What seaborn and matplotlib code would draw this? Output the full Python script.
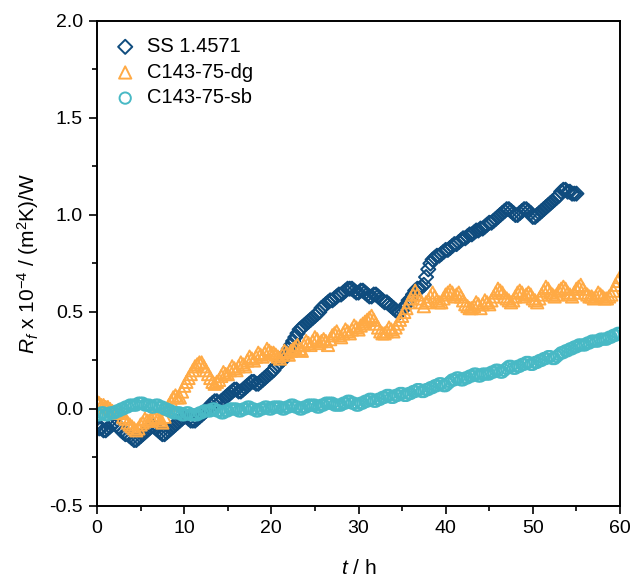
import numpy as np
import matplotlib
matplotlib.use("Agg")
import matplotlib.pyplot as plt
import pandas as pd
import seaborn as sns

# time axis (h), one reading every 15 min
t_ss = np.arange(0, 55.01, 0.25)
t_full = np.arange(0, 60.01, 0.25)

# fouling resistance, x 10^-4 (m2K)/W  (one row = one hour)
ss_1_4571 = [
    -0.09, -0.10, -0.10, -0.11,
    -0.11, -0.10, -0.09, -0.08,
    -0.07, -0.08, -0.09, -0.11,
    -0.12, -0.13, -0.13, -0.14,
    -0.15, -0.16, -0.16, -0.15,
    -0.14, -0.13, -0.12, -0.11,
    -0.10, -0.09, -0.09, -0.10,
    -0.11, -0.12, -0.13, -0.13,
    -0.12, -0.11, -0.10, -0.09,
    -0.08, -0.07, -0.06, -0.05,
    -0.04, -0.04, -0.05, -0.06,
    -0.06, -0.06, -0.05, -0.04,
    -0.03, -0.02, -0.01, 0.00,
    0.02, 0.03, 0.04, 0.04,
    0.03, 0.04, 0.05, 0.06,
    0.07, 0.08, 0.09, 0.10,
    0.10, 0.09, 0.09, 0.10,
    0.11, 0.12, 0.13, 0.14,
    0.14, 0.13, 0.13, 0.14,
    0.15, 0.16, 0.17, 0.18,
    0.19, 0.20, 0.22, 0.23,
    0.24, 0.25, 0.27, 0.29,
    0.31, 0.33, 0.35, 0.37,
    0.39, 0.41, 0.42, 0.43,
    0.44, 0.45, 0.46, 0.47,
    0.48, 0.49, 0.50, 0.52,
    0.53, 0.54, 0.55, 0.56,
    0.56, 0.57, 0.58, 0.59,
    0.59, 0.60, 0.61, 0.62,
    0.62, 0.62, 0.61, 0.60,
    0.60, 0.61, 0.61, 0.60,
    0.59, 0.58, 0.58, 0.59,
    0.59, 0.58, 0.57, 0.56,
    0.55, 0.55, 0.54, 0.53,
    0.52, 0.51, 0.50, 0.50,
    0.51, 0.52, 0.54, 0.56,
    0.57, 0.59, 0.61, 0.62,
    0.62, 0.63, 0.64, 0.68,
    0.72, 0.75, 0.77, 0.78,
    0.79, 0.79, 0.80, 0.81,
    0.82, 0.82, 0.83, 0.84,
    0.85, 0.85, 0.86, 0.87,
    0.88, 0.88, 0.89, 0.90,
    0.90, 0.91, 0.92, 0.92,
    0.93, 0.93, 0.94, 0.95,
    0.96, 0.96, 0.97, 0.98,
    0.99, 1.00, 1.01, 1.02,
    1.03, 1.03, 1.02, 1.01,
    1.00, 1.00, 1.01, 1.02,
    1.03, 1.03, 1.02, 1.01,
    0.99, 0.99, 1.00, 1.01,
    1.02, 1.03, 1.04, 1.05,
    1.06, 1.07, 1.08, 1.09,
    1.10, 1.12, 1.13, 1.13,
    1.12, 1.12, 1.11, 1.11,
    1.11]

c143_dg = [
    0.04, 0.03, 0.02, 0.02,
    0.01, 0.01, 0.00, -0.01,
    -0.02, -0.02, -0.01, -0.02,
    -0.04, -0.05, -0.07, -0.08,
    -0.09, -0.10, -0.11, -0.10,
    -0.08, -0.07, -0.05, -0.06,
    -0.06, -0.05, -0.04, -0.04,
    -0.05, -0.06, -0.07, -0.04,
    0.00, 0.02, 0.04, 0.06,
    0.07, 0.06, 0.06, 0.09,
    0.12, 0.14, 0.16, 0.18,
    0.20, 0.22, 0.23, 0.24,
    0.24, 0.22, 0.20, 0.18,
    0.16, 0.14, 0.13, 0.14,
    0.15, 0.17, 0.19, 0.18,
    0.18, 0.20, 0.22, 0.21,
    0.20, 0.22, 0.24, 0.23,
    0.22, 0.25, 0.27, 0.26,
    0.25, 0.27, 0.29, 0.28,
    0.27, 0.29, 0.31, 0.30,
    0.29, 0.29, 0.28, 0.27,
    0.26, 0.28, 0.30, 0.29,
    0.28, 0.30, 0.31, 0.32,
    0.33, 0.31, 0.30, 0.33,
    0.35, 0.34, 0.33, 0.35,
    0.37, 0.36, 0.34, 0.35,
    0.36, 0.35, 0.33, 0.36,
    0.38, 0.39, 0.40, 0.38,
    0.37, 0.39, 0.41, 0.40,
    0.39, 0.41, 0.43, 0.42,
    0.41, 0.43, 0.44, 0.45,
    0.46, 0.47, 0.48, 0.46,
    0.44, 0.42, 0.40, 0.39,
    0.39, 0.40, 0.42, 0.41,
    0.40, 0.42, 0.44, 0.46,
    0.48, 0.50, 0.52, 0.55,
    0.57, 0.59, 0.61, 0.59,
    0.57, 0.55, 0.53, 0.55,
    0.56, 0.58, 0.60, 0.58,
    0.56, 0.55, 0.55, 0.57,
    0.59, 0.60, 0.61, 0.60,
    0.58, 0.59, 0.60, 0.58,
    0.56, 0.54, 0.53, 0.52,
    0.52, 0.53, 0.55, 0.54,
    0.52, 0.54, 0.56, 0.55,
    0.54, 0.56, 0.58, 0.60,
    0.62, 0.61, 0.60, 0.58,
    0.57, 0.56, 0.55, 0.56,
    0.58, 0.60, 0.61, 0.60,
    0.58, 0.59, 0.60, 0.59,
    0.57, 0.56, 0.55, 0.57,
    0.59, 0.61, 0.63, 0.62,
    0.60, 0.59, 0.58, 0.59,
    0.61, 0.62, 0.63, 0.62,
    0.60, 0.59, 0.58, 0.60,
    0.62, 0.63, 0.64, 0.62,
    0.60, 0.59, 0.58, 0.58,
    0.57, 0.58, 0.60, 0.59,
    0.58, 0.57, 0.57, 0.58,
    0.59, 0.61, 0.64, 0.66,
    0.68]

c143_sb = [
    -0.03, -0.03, -0.02, -0.02,
    -0.03, -0.03, -0.02, -0.02,
    -0.02, -0.01, -0.01, 0.00,
    0.00, 0.01, 0.01, 0.02,
    0.02, 0.02, 0.02, 0.03,
    0.03, 0.03, 0.02, 0.02,
    0.02, 0.01, 0.01, 0.02,
    0.02, 0.01, 0.01, 0.00,
    0.00, -0.01, -0.01, -0.02,
    -0.02, -0.02, -0.02, -0.03,
    -0.03, -0.02, -0.02, -0.03,
    -0.03, -0.03, -0.03, -0.02,
    -0.02, -0.01, -0.01, -0.01,
    -0.01, 0.00, 0.00, -0.01,
    -0.01, -0.02, -0.02, -0.01,
    -0.01, 0.00, 0.00, 0.00,
    0.00, -0.01, -0.01, 0.00,
    0.00, 0.01, 0.01, 0.00,
    0.00, -0.01, -0.01, 0.00,
    0.00, 0.01, 0.01, 0.00,
    0.00, 0.01, 0.01, 0.01,
    0.01, 0.00, 0.00, 0.01,
    0.01, 0.02, 0.02, 0.01,
    0.01, 0.00, 0.00, 0.01,
    0.01, 0.02, 0.02, 0.02,
    0.02, 0.01, 0.01, 0.02,
    0.02, 0.03, 0.03, 0.03,
    0.03, 0.02, 0.02, 0.02,
    0.02, 0.03, 0.03, 0.04,
    0.04, 0.03, 0.03, 0.02,
    0.02, 0.03, 0.03, 0.04,
    0.04, 0.05, 0.05, 0.04,
    0.04, 0.05, 0.05, 0.06,
    0.06, 0.07, 0.07, 0.06,
    0.06, 0.07, 0.07, 0.08,
    0.08, 0.07, 0.07, 0.08,
    0.08, 0.09, 0.09, 0.10,
    0.10, 0.09, 0.09, 0.10,
    0.10, 0.11, 0.11, 0.12,
    0.12, 0.13, 0.13, 0.12,
    0.12, 0.13, 0.14, 0.15,
    0.15, 0.16, 0.16, 0.15,
    0.15, 0.16, 0.16, 0.17,
    0.17, 0.18, 0.18, 0.17,
    0.17, 0.18, 0.18, 0.18,
    0.18, 0.19, 0.19, 0.20,
    0.20, 0.19, 0.19, 0.20,
    0.21, 0.22, 0.22, 0.21,
    0.21, 0.22, 0.22, 0.23,
    0.23, 0.24, 0.24, 0.23,
    0.23, 0.24, 0.24, 0.25,
    0.25, 0.26, 0.26, 0.27,
    0.27, 0.26, 0.26, 0.27,
    0.28, 0.29, 0.29, 0.30,
    0.30, 0.31, 0.31, 0.32,
    0.32, 0.33, 0.33, 0.33,
    0.33, 0.34, 0.34, 0.35,
    0.35, 0.35, 0.35, 0.36,
    0.36, 0.36, 0.36, 0.37,
    0.37, 0.38, 0.38, 0.39,
    0.39]

labels = ["SS 1.4571", "C143-75-dg", "C143-75-sb"]
colors = ["#0F4C7E", "#FFAA45", "#48B9C5"]
markers = ["D", "^", "o"]
msizes = [52, 78, 66]

sns.set_style("ticks")
plt.rcParams["font.family"] = ["Liberation Sans", "DejaVu Sans"]
plt.rcParams["mathtext.fontset"] = "custom"
plt.rcParams["mathtext.rm"] = "Liberation Sans"
plt.rcParams["mathtext.it"] = "Liberation Sans:italic"
plt.rcParams["text.color"] = "black"
plt.rcParams["axes.labelcolor"] = "black"
plt.rcParams["xtick.color"] = "black"
plt.rcParams["ytick.color"] = "black"
plt.rcParams["axes.edgecolor"] = "black"

fig = plt.figure(figsize=(6.32, 5.8), dpi=100)
ax = fig.add_axes([0.1535, 0.1276, 0.8275, 0.8362])

series = [(t_ss, ss_1_4571), (t_full, c143_dg), (t_full, c143_sb)]
for (tt, yy), lab, col, mk, s in zip(series, labels, colors, markers, msizes):
    df = pd.DataFrame({"t": tt, "Rf": yy})
    sns.scatterplot(data=df, x="t", y="Rf", ax=ax, marker=mk, s=s,
                    color=col, facecolor="none", edgecolor=col,
                    linewidth=1.4, label=lab)

ax.set_xlim(0, 60)
ax.set_ylim(-0.5, 2.0)
ax.set_xticks(np.arange(0, 61, 10))
ax.set_xticks(np.arange(5, 60, 10), minor=True)
ax.set_yticks(np.arange(-0.5, 2.01, 0.5))
ax.set_yticks(np.arange(-0.25, 2.0, 0.5), minor=True)
ax.set_yticklabels(["-0.5", "0.0", "0.5", "1.0", "1.5", "2.0"])
ax.tick_params(axis="both", which="major", labelsize=14, length=6, width=1.2,
               direction="out", top=False, right=False, pad=4)
ax.tick_params(axis="both", which="minor", length=3.5, width=1.2,
               direction="out", top=False, right=False)
for sp in ax.spines.values():
    sp.set_linewidth(1.4)
    sp.set_visible(True)

ax.set_xlabel("$t$ / h", fontsize=15, labelpad=16)
ax.set_ylabel("$R_f$ x 10$^{-4}$ / (m$^2$K)/W", fontsize=15, labelpad=6)

leg = ax.legend(loc="upper left", frameon=False, fontsize=14.5,
                handlelength=1.2, handletextpad=0.5, borderpad=0.4,
                borderaxespad=0.4, labelspacing=0.33)

fig.savefig("out.png", dpi=100)
